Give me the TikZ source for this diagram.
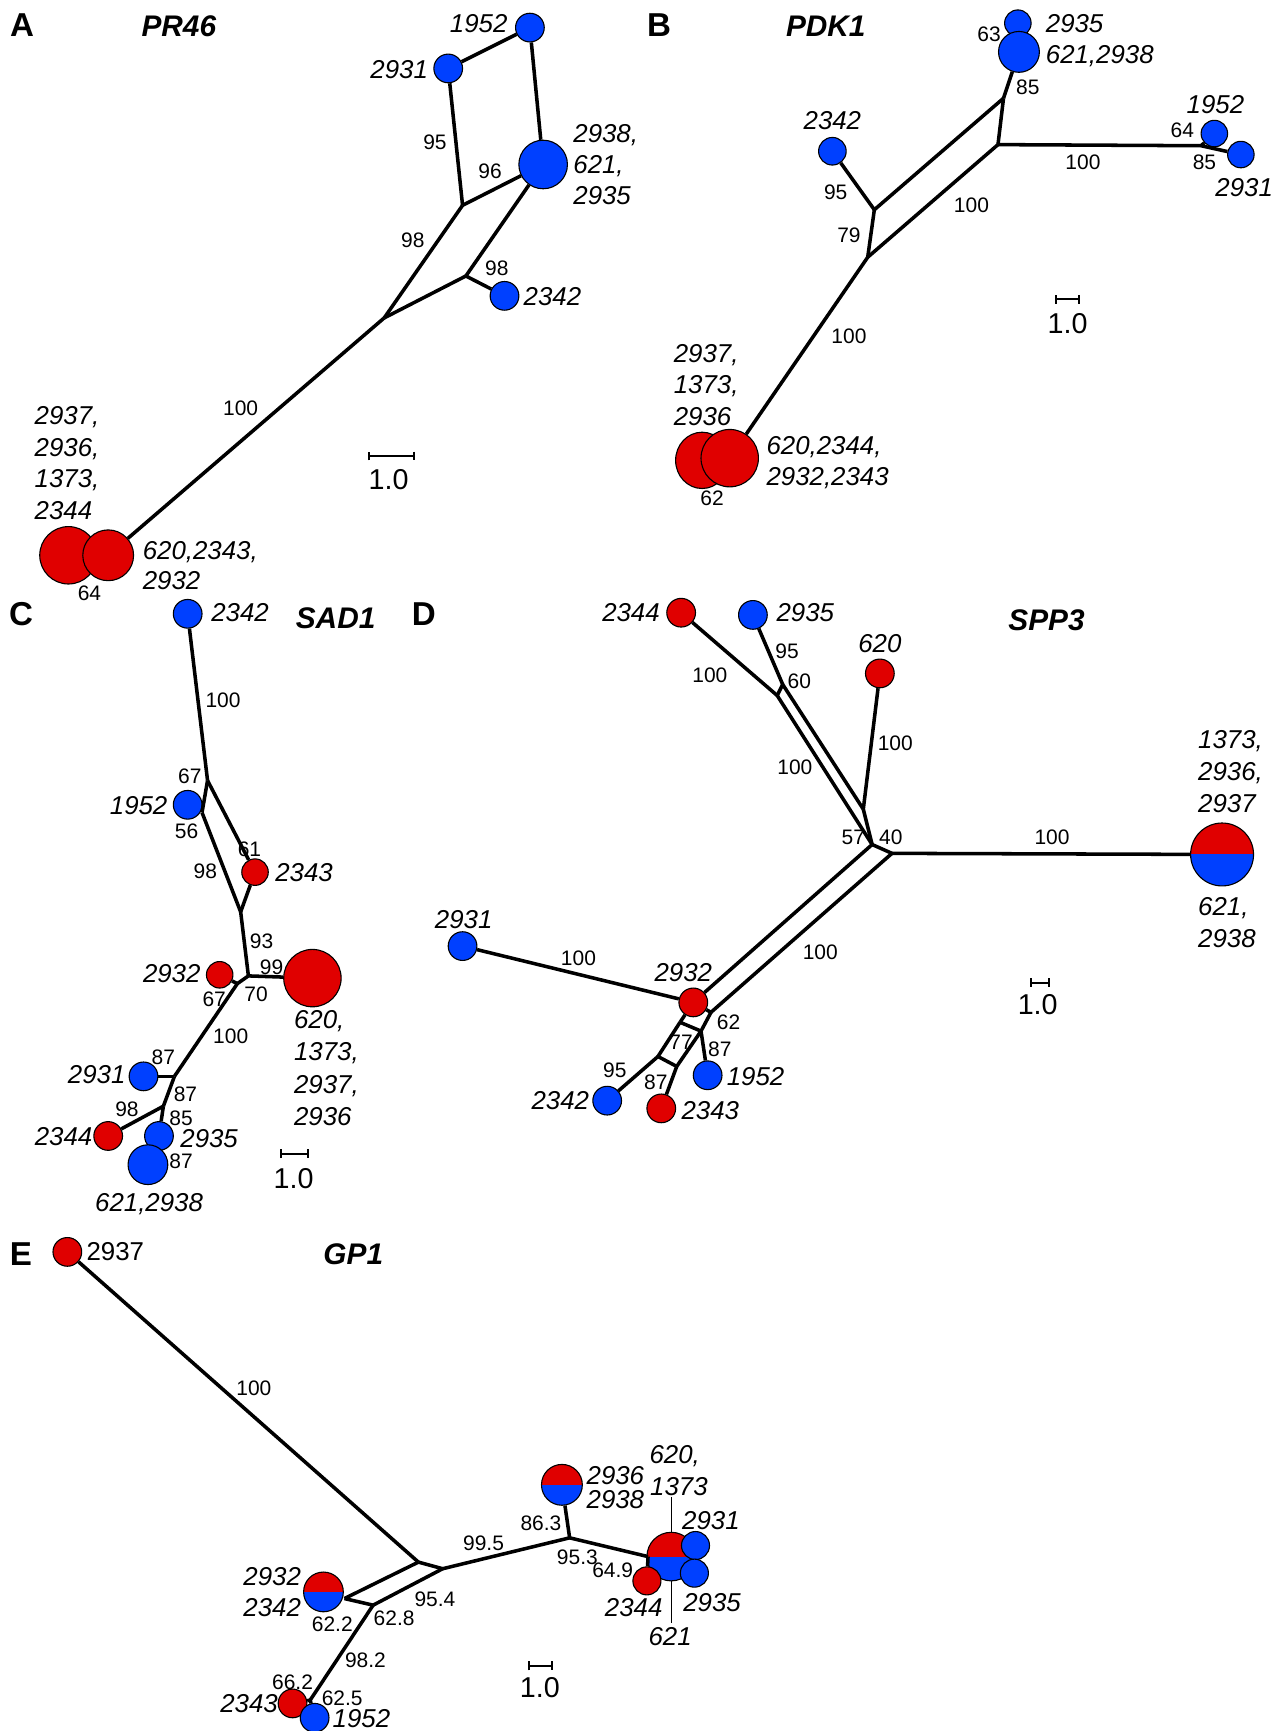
\documentclass[tikz,border=0pt]{standalone}
\usepackage{fontspec}
\setmainfont{Liberation Sans}
\usetikzlibrary{shapes.geometric,arrows.meta}
\definecolor{myred}{RGB}{224,0,0}
\definecolor{myblue}{RGB}{0,64,255}
\begin{document}
\begin{tikzpicture}[x=0.5pt,y=-0.5pt,
  edge/.style={line width=1.6pt},
  thinedge/.style={line width=0.5pt},
  scb/.style={line width=0.9pt,{Bar[width=4pt]}-{Bar[width=4pt]}},
  nd/.style={circle,draw=black,line width=0.5pt,inner sep=0pt,minimum size=#1},
  bn/.style={nd=#1,fill=myblue},
  rn/.style={nd=#1,fill=myred},
  sn/.style={nd=#1,path picture={
     \fill[myred] (path picture bounding box.north west) rectangle (path picture bounding box.east);
     \fill[myblue] (path picture bounding box.west) rectangle (path picture bounding box.south east);}},
  lab/.style={font=\fontsize{11.7}{14}\selectfont\itshape,inner sep=0pt,text height=8.4pt,text depth=0pt},
  labn/.style={font=\fontsize{11.7}{14}\selectfont,inner sep=0pt,text height=8.4pt,text depth=0pt},
  bs/.style={font=\fontsize{9.5}{11}\selectfont,inner sep=0pt,text height=6.8pt,text depth=0pt},
  pan/.style={font=\fontsize{15}{17}\selectfont\bfseries,inner sep=0pt,text height=10.7pt,text depth=0pt},
  gene/.style={font=\fontsize{13.5}{16}\selectfont\bfseries\itshape,inner sep=0pt,text height=9.7pt,text depth=0pt},
  sc/.style={font=\fontsize{13}{15}\selectfont,inner sep=0pt,text height=9.3pt,text depth=0pt},
]
\fill[white] (0,0) rectangle (1158,1568);
\useasboundingbox (0,0) rectangle (1158,1568);

%%%%%%%%%%%%%%%% Panel A
\node[pan] (pA) at (20,22) {A};
\node[gene] (gA) at (162,23) {PR46};
\node[bn=13pt] (a1952) at (480,25) {};
\node[bn=13pt] (a2931) at (406,62) {};
\node[bn=22pt] (abig) at (492,149) {};
\node[bn=13pt] (a2342) at (457,268) {};
\node[rn=26pt] (ared1) at (62,503) {};
\node[rn=23pt] (ared2) at (98,503) {};
\coordinate (aj1) at (419,186);
\coordinate (aj2) at (422,250);
\coordinate (aj3) at (348,288);
\draw[edge] (a1952) -- (a2931);
\draw[edge] (a2931) -- (aj1);
\draw[edge] (a1952) -- (abig);
\draw[edge] (aj1) -- (abig);
\draw[edge] (aj1) -- (aj3);
\draw[edge] (abig) -- (aj2);
\draw[edge] (aj2) -- (aj3);
\draw[edge] (aj2) -- (a2342);
\draw[edge] (aj3) -- (ared2);
\node[lab,anchor=east] (tA1) at (460,21) {1952};
\node[lab,anchor=east] (tA2) at (388,63) {2931};
\node[lab,anchor=west] (tA3) at (519,121) {2938,};
\node[lab,anchor=west] (tA4) at (519,149) {621,};
\node[lab,anchor=west] (tA5) at (519,177) {2935};
\node[lab,anchor=west] (tA6) at (474,268) {2342};
\node[lab,anchor=west] (tA7) at (31,376) {2937,};
\node[lab,anchor=west] (tA8) at (31,405) {2936,};
\node[lab,anchor=west] (tA9) at (31,433) {1373,};
\node[lab,anchor=west] (tA10) at (31,462) {2344};
\node[lab,anchor=west] (tA11) at (129,498) {620,2343,};
\node[lab,anchor=west] (tA12) at (129,526) {2932};
\node[bs] (bA1) at (394,129) {95};
\node[bs] (bA2) at (444,155) {96};
\node[bs] (bA3) at (374,217) {98};
\node[bs] (bA4) at (450,243) {98};
\node[bs] (bA5) at (218,370) {100};
\node[bs] (bA6) at (81,537) {64};
\coordinate (sA1) at (333,413);
\coordinate (sA2) at (376,413);
\draw[scb] (sA1) -- (sA2);
\node[sc] (cA) at (352,434) {1.0};

%%%%%%%%%%%%%%%% Panel B
\node[pan] (pB) at (597,22) {B};
\node[gene] (gB) at (748,23) {PDK1};
\node[bn=12pt] (b2935) at (922,21) {};
\node[bn=18.5pt] (b621) at (923,47) {};
\node[bn=12.5pt] (b2342) at (754,137) {};
\node[bn=12pt] (b1952) at (1100,121) {};
\node[bn=12pt] (b2931) at (1124,140) {};
\node[ellipse,draw=black,line width=0.5pt,fill=myred,inner sep=0pt,minimum width=24pt,minimum height=25.5pt] (bred1) at (636,417) {};
\node[ellipse,draw=black,line width=0.5pt,fill=myred,inner sep=0pt,minimum width=26pt,minimum height=26pt] (bred2) at (661,415) {};
\coordinate (bj1) at (909,89);
\coordinate (bj2) at (904,131);
\coordinate (bj3) at (792,190);
\coordinate (bj4) at (786,233);
\coordinate (bj5) at (1088,132);
\draw[edge] (b621) -- (bj1);
\draw[edge] (bj1) -- (bj2);
\draw[edge] (bj2) -- (bj5);
\draw[edge] (bj5) -- (b1952);
\draw[edge] (bj5) -- (b2931);
\draw[edge] (bj1) -- (bj3);
\draw[edge] (bj2) -- (bj4);
\draw[edge] (bj3) -- (bj4);
\draw[edge] (bj3) -- (b2342);
\draw[edge] (bj4) -- (bred2);
\node[lab,anchor=west] (tB1) at (947,21) {2935};
\node[lab,anchor=west] (tB2) at (947,49) {621,2938};
\node[lab] (tB3) at (754,109) {2342};
\node[lab] (tB4) at (1101,94) {1952};
\node[lab] (tB5) at (1127,170) {2931};
\node[lab,anchor=west] (tB6) at (610,320) {2937,};
\node[lab,anchor=west] (tB7) at (610,348) {1373,};
\node[lab,anchor=west] (tB8) at (610,377) {2936};
\node[lab,anchor=west] (tB9) at (694,403) {620,2344,};
\node[lab,anchor=west] (tB10) at (694,431) {2932,2343};
\node[bs] (bB1) at (896,31) {63};
\node[bs] (bB2) at (931,79) {85};
\node[bs] (bB3) at (1071,118) {64};
\node[bs] (bB4) at (1091,147) {85};
\node[bs] (bB5) at (981,147) {100};
\node[bs] (bB6) at (757,174) {95};
\node[bs] (bB7) at (769,213) {79};
\node[bs] (bB8) at (880,186) {100};
\node[bs] (bB9) at (769,304) {100};
\node[bs] (bB10) at (645,451) {62};
\coordinate (sB1) at (956,271);
\coordinate (sB2) at (978,271);
\draw[scb] (sB1) -- (sB2);
\node[sc] (cB) at (967,293) {1.0};

%%%%%%%%%%%%%%%% Panel C
\node[pan] (pC) at (19,556) {C};
\node[gene] (gC) at (304,560) {SAD1};
\node[bn=13pt] (c2342) at (170,556) {};
\node[bn=13pt] (c1952) at (170,729) {};
\node[rn=12pt] (c2343) at (231,790) {};
\node[rn=26pt] (cbig) at (283,886) {};
\node[rn=12pt] (c2932) at (199,883) {};
\node[bn=13pt] (c2931) at (130,975) {};
\node[rn=13pt] (c2344) at (98,1029) {};
\node[bn=13pt] (c2935) at (144,1029) {};
\node[bn=18pt] (c621) at (134,1055) {};
\coordinate (cj1) at (188,707);
\coordinate (cj2) at (183,736);
\coordinate (cj4) at (218,826);
\coordinate (cj5) at (225,884);
\coordinate (cj6) at (215,891);
\coordinate (cj7) at (158,975);
\coordinate (cj8) at (148,1002);
\draw[edge] (c2342) -- (cj1);
\draw[edge] (cj1) -- (cj2);
\draw[edge] (cj1) -- (c2343);
\draw[edge] (c2343) -- (cj4);
\draw[edge] (cj2) -- (cj4);
\draw[edge] (cj4) -- (cj5);
\draw[edge] (cj5) -- (cbig);
\draw[edge] (cj5) -- (cj6);
\draw[edge] (cj6) -- (c2932);
\draw[edge] (cj6) -- (cj7);
\draw[edge] (cj7) -- (c2931);
\draw[edge] (cj7) -- (cj8);
\draw[edge] (cj8) -- (c2344);
\draw[edge] (cj8) -- (c2935);
\node[lab,anchor=west] (tC1) at (191,555) {2342};
\node[lab,anchor=east] (tC2) at (152,729) {1952};
\node[lab,anchor=west] (tC3) at (249,790) {2343};
\node[lab,anchor=east] (tC4) at (182,882) {2932};
\node[lab,anchor=west] (tC5) at (266,923) {620,};
\node[lab,anchor=west] (tC6) at (266,952) {1373,};
\node[lab,anchor=west] (tC7) at (266,982) {2937,};
\node[lab,anchor=west] (tC8) at (266,1011) {2936};
\node[lab,anchor=east] (tC9) at (114,973) {2931};
\node[lab,anchor=east] (tC10) at (84,1029) {2344};
\node[lab,anchor=west] (tC11) at (163,1031) {2935};
\node[lab] (tC12) at (135,1089) {621,2938};
\node[bs] (bC1) at (202,634) {100};
\node[bs] (bC2) at (172,703) {67};
\node[bs] (bC3) at (169,753) {56};
\node[bs] (bC4) at (226,769) {61};
\node[bs] (bC5) at (186,789) {98};
\node[bs] (bC6) at (237,852) {93};
\node[bs] (bC7) at (246,876) {99};
\node[bs] (bC8) at (232,900) {70};
\node[bs] (bC9) at (194,905) {67};
\node[bs] (bC10) at (209,938) {100};
\node[bs] (bC11) at (148,957) {87};
\node[bs] (bC12) at (168,991) {87};
\node[bs] (bC13) at (115,1005) {98};
\node[bs] (bC14) at (164,1013) {85};
\node[bs] (bC15) at (164,1052) {87};
\coordinate (sC1) at (254,1045);
\coordinate (sC2) at (280,1045);
\draw[scb] (sC1) -- (sC2);
\node[sc] (cC) at (266,1067) {1.0};

%%%%%%%%%%%%%%%% Panel D
\node[pan] (pD) at (384,556) {D};
\node[gene] (gD) at (948,561) {SPP3};
\node[rn=13pt] (d2344) at (617,555) {};
\node[bn=13pt] (d2935) at (682,557) {};
\node[rn=13pt] (d620) at (797,610) {};
\node[sn=28.5pt] (dbig) at (1107,774) {};
\node[rn=13pt] (d2932) at (628,908) {};
\node[bn=13pt] (d2931) at (419,857) {};
\node[bn=13pt] (d2342) at (550,997) {};
\node[rn=13pt] (d2343) at (599,1004) {};
\node[bn=13pt] (d1952) at (641,974) {};
\coordinate (dP1) at (704,630);
\coordinate (dP2) at (709,620);
\coordinate (dQ) at (782,733);
\coordinate (dH1) at (790,765);
\coordinate (dH2) at (808,773);
\coordinate (dB) at (644,917);
\coordinate (dA) at (616,926);
\coordinate (dR1) at (635,934);
\coordinate (dL1) at (596,957);
\coordinate (dL2) at (613,966);
\draw[edge] (d2344) -- (dP1);
\draw[edge] (d2935) -- (dP2);
\draw[edge] (dP1) -- (dP2);
\draw[edge] (dP1) -- (dH1);
\draw[edge] (dP2) -- (dQ);
\draw[edge] (d620) -- (dQ);
\draw[edge] (dQ) -- (dH1);
\draw[edge] (dH1) -- (dH2);
\draw[edge] (dH2) -- (dbig);
\draw[edge] (dH1) -- (d2932);
\draw[edge] (dH2) -- (dB);
\draw[edge] (d2932) -- (dB);
\draw[edge] (dB) -- (dR1);
\draw[edge] (d2932) -- (dA);
\draw[edge] (dA) -- (dR1);
\draw[edge] (dA) -- (dL1);
\draw[edge] (dR1) -- (dL2);
\draw[edge] (dL1) -- (dL2);
\draw[edge] (dL1) -- (d2342);
\draw[edge] (dL2) -- (d2343);
\draw[edge] (dR1) -- (d1952);
\draw[edge] (d2931) -- (d2932);
\node[lab,anchor=east] (tD1) at (598,555) {2344};
\node[lab,anchor=west] (tD2) at (703,555) {2935};
\node[lab] (tD3) at (797,583) {620};
\node[lab,anchor=west] (tD4) at (1085,670) {1373,};
\node[lab,anchor=west] (tD5) at (1085,699) {2936,};
\node[lab,anchor=west] (tD6) at (1085,728) {2937};
\node[lab,anchor=west] (tD7) at (1085,821) {621,};
\node[lab,anchor=west] (tD8) at (1085,850) {2938};
\node[lab] (tD9) at (420,833) {2931};
\node[lab] (tD10) at (619,881) {2932};
\node[lab,anchor=east] (tD11) at (534,997) {2342};
\node[lab,anchor=west] (tD12) at (617,1006) {2343};
\node[lab,anchor=west] (tD13) at (658,975) {1952};
\node[bs] (bD1) at (643,611) {100};
\node[bs] (bD2) at (713,590) {95};
\node[bs] (bD3) at (724,617) {60};
\node[bs] (bD4) at (811,673) {100};
\node[bs] (bD5) at (720,695) {100};
\node[bs] (bD6) at (773,758) {57};
\node[bs] (bD7) at (807,758) {40};
\node[bs] (bD8) at (953,758) {100};
\node[bs] (bD9) at (524,868) {100};
\node[bs] (bD10) at (743,862) {100};
\node[bs] (bD11) at (660,926) {62};
\node[bs] (bD12) at (617,944) {77};
\node[bs] (bD13) at (652,950) {87};
\node[bs] (bD14) at (557,969) {95};
\node[bs] (bD15) at (594,980) {87};
\coordinate (sD1) at (933,890);
\coordinate (sD2) at (951,890);
\draw[scb] (sD1) -- (sD2);
\node[sc] (cD) at (940,910) {1.0};

%%%%%%%%%%%%%%%% Panel E
\node[pan] (pE) at (19,1136) {E};
\node[gene] (gE) at (320,1136) {GP1};
\node[rn=13pt] (e2937) at (61,1134) {};
\node[sn=18.5pt] (e2936) at (509,1345) {};
\node[sn=22pt] (ebig) at (608,1410) {};
\node[rn=12.7pt] (e2344) at (586,1432) {};
\node[bn=12.7pt] (e2931) at (630,1400) {};
\node[bn=12.7pt] (e2935) at (629,1425) {};
\node[sn=18pt] (e2932) at (293,1442) {};
\node[rn=13pt] (e2343) at (265,1543) {};
\node[bn=13pt] (e1952) at (285,1556) {};
\coordinate (ej1) at (379,1415);
\coordinate (ej2) at (401,1421);
\coordinate (ej3) at (516,1393);
\coordinate (ej4) at (587,1410);
\coordinate (ej5) at (312,1448);
\coordinate (ej6) at (338,1454);
\coordinate (ej7) at (281,1540);
\coordinate (et1) at (608,1356);
\coordinate (et2) at (608,1470);
\draw[edge] (e2937) -- (ej1);
\draw[edge] (ej1) -- (ej2);
\draw[edge] (ej2) -- (ej3);
\draw[edge] (ej3) -- (e2936);
\draw[edge] (ej3) -- (ej4);
\draw[edge] (ej4) -- (e2344);
\draw[edge] (ej1) -- (ej5);
\draw[edge] (ej2) -- (ej6);
\draw[edge] (ej5) -- (ej6);
\draw[edge] (ej6) -- (ej7);
\draw[edge] (ej7) -- (e2343);
\draw[edge] (ej7) -- (e1952);
\draw[thinedge] (et1) -- (ebig);
\draw[thinedge] (ebig) -- (et2);
\node[labn,anchor=west] (tE1) at (78,1133) {2937};
\node[lab,anchor=east] (tE2) at (273,1428) {2932};
\node[lab,anchor=east] (tE3) at (273,1456) {2342};
\node[lab,anchor=east] (tE4) at (252,1543) {2343};
\node[lab,anchor=west] (tE5) at (301,1556) {1952};
\node[lab,anchor=west] (tE6) at (531,1336) {2936};
\node[lab,anchor=west] (tE7) at (531,1358) {2938};
\node[lab,anchor=west] (tE8) at (588,1317) {620,};
\node[lab] (tE9) at (615,1346) {1373};
\node[lab] (tE10) at (644,1377) {2931};
\node[lab] (tE11) at (645,1451) {2935};
\node[lab] (tE12) at (574,1456) {2344};
\node[lab] (tE13) at (607,1482) {621};
\node[bs] (bE1) at (230,1257) {100};
\node[bs] (bE2) at (438,1398) {99.5};
\node[bs] (bE3) at (490,1380) {86.3};
\node[bs] (bE4) at (523,1410) {95.3};
\node[bs] (bE5) at (555,1422) {64.9};
\node[bs] (bE6) at (394,1448) {95.4};
\node[bs] (bE7) at (301,1471) {62.2};
\node[bs] (bE8) at (357,1466) {62.8};
\node[bs] (bE9) at (331,1504) {98.2};
\node[bs] (bE10) at (265,1524) {66.2};
\node[bs] (bE11) at (310,1538) {62.5};
\coordinate (sE1) at (478,1509);
\coordinate (sE2) at (501,1509);
\draw[scb] (sE1) -- (sE2);
\node[sc] (cE) at (489,1528) {1.0};
\end{tikzpicture}
\end{document}
